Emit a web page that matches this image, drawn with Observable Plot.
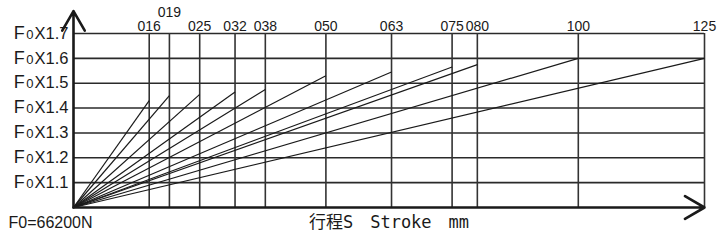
<!DOCTYPE html>
<html>
<head>
<meta charset="utf-8">
<script src="https://cdn.jsdelivr.net/npm/d3@7"></script>
<script src="https://cdn.jsdelivr.net/npm/@observablehq/plot@0.6"></script>
<style>
  html, body { margin: 0; padding: 0; background: #fff; }
  #chart svg { display: block; }
</style>
</head>
<body>
<div id="chart"></div>
<script>
// ---- data ----
// stroke positions as drawn on the reference (the "016" line sits at ~15 mm on the scale)
const strokes = [15, 19, 25, 32, 38, 50, 63, 75, 80, 100, 125];
const strokeLabels = ["016", "019", "025", "032", "038", "050", "063", "075", "080", "100", "125"];
const forceFactors = [1.43, 1.45, 1.455, 1.465, 1.475, 1.53, 1.545, 1.565, 1.575, 1.6, 1.6];
const yTicks = [1.1, 1.2, 1.3, 1.4, 1.5, 1.6, 1.7];
const yTickFactors = ["1.1", "1.2", "1.3", "1.4", "1.5", "1.6", "1.7"];
const baseForceLabel = "F0=66200N";
const xAxisLabel = "行程S\u3000Stroke\u3000mm";
const xMin = 0, xMax = 125;
const yMin = 1.0, yMax = 1.7, yArrowTop = 1.79;

// ---- derived tables ----
const lines = strokes.map((s, i) => ({stroke: s, factor: forceFactors[i], label: strokeLabels[i]}));
// stagger labels that sit too close to the previous one
lines.forEach((d, i) => { d.raised = i > 0 && (d.stroke - strokes[i - 1]) <= 4; });

const ink = "#1a1a1a";
const chart = Plot.plot({
  width: 722,
  height: 240,
  marginLeft: 73,
  marginRight: 18,
  marginTop: 33,
  marginBottom: 33,
  x: {domain: [xMin, xMax], axis: null},
  y: {domain: [yMin, yMax], axis: null},
  style: {fontFamily: "Liberation Sans, Arial, sans-serif", color: ink, background: "#fff"},
  marks: [
    Plot.ruleY(yTicks, {x1: xMin, x2: xMax, stroke: "#2a2a2a", strokeWidth: 1.6}),
    Plot.ruleX(strokes, {y1: yMin, y2: yMax, stroke: "#333", strokeWidth: 1.6}),
    Plot.link(lines, {x1: xMin, y1: yMin, x2: "stroke", y2: "factor", stroke: ink, strokeWidth: 1.2}),
    Plot.arrow([0], {x1: xMin, y1: yMin, x2: xMin, y2: yArrowTop, stroke: ink, strokeWidth: 2.6, headLength: 13, headAngle: 60}),
    Plot.arrow([0], {x1: xMin, y1: yMin, x2: xMax, y2: yMin, stroke: ink, strokeWidth: 2.6, headLength: 13, headAngle: 60}),
    Plot.text(lines.filter(d => !d.raised), {x: "stroke", y: yMax, text: "label", dy: -7, fontSize: 14, fill: ink}),
    Plot.text(lines.filter(d => d.raised), {x: "stroke", y: yMax, text: "label", dy: -21, fontSize: 14, fill: ink}),
    Plot.text(yTicks, {x: xMin, y: d => d, text: (d, i) => "F0X" + yTickFactors[i], dx: -5, textAnchor: "end",
      fontSize: 16.5, fill: ink, className: "ylab"}),
    Plot.text([baseForceLabel], {frameAnchor: "bottom-left", dx: -65, dy: 20, textAnchor: "start", fontSize: 16, fill: ink,
      fontFamily: "Liberation Sans Narrow, Liberation Sans, Arial, sans-serif"}),
    Plot.text([xAxisLabel], {frameAnchor: "bottom", dx: 0, dy: 20, fontSize: 17, fill: ink,
      fontFamily: "DejaVu Sans Mono, Noto Sans CJK SC, monospace"})
  ]
});

// Render the "0" in F0 smaller, like the reference labels
d3.select(chart).selectAll("g.ylab text").each(function() {
  const t = d3.select(this);
  const s = t.text();
  t.text(null);
  t.append("tspan").attr("font-size", 18).text(s.slice(0, 1));
  t.append("tspan").attr("font-size", 13).attr("dx", 1.5).text(s.slice(1, 2));
  t.append("tspan").attr("dx", 1).text(s.slice(2));
});

document.getElementById("chart").appendChild(chart);
</script>
</body>
</html>
